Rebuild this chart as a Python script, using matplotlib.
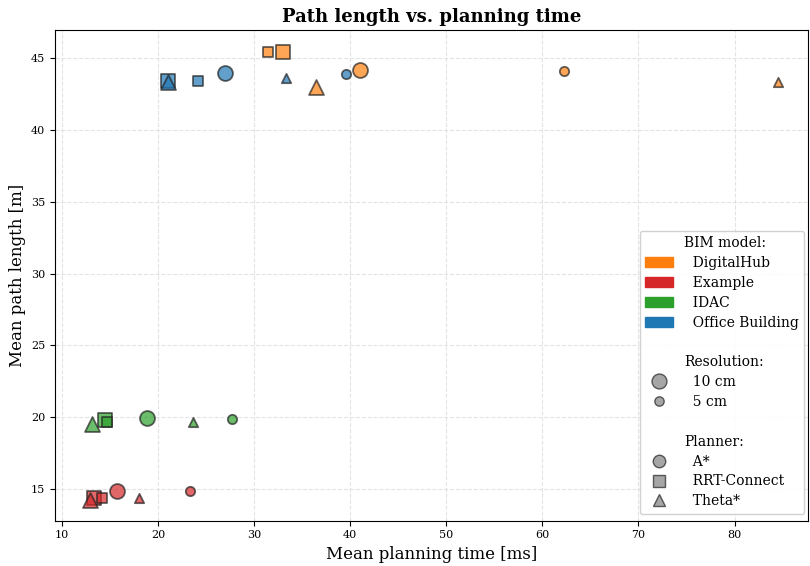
import numpy as np
import matplotlib.pyplot as plt
from matplotlib.patches import Patch
from matplotlib.lines import Line2D

plt.rcParams['font.family'] = 'DejaVu Serif'

models = ['DigitalHub', 'Example', 'IDAC', 'Office Building']
colors = {'DigitalHub': '#ff7f0e', 'Example': '#d62728', 'IDAC': '#2ca02c', 'Office Building': '#1f77b4'}
planners = ['A*', 'RRT-Connect', 'Theta*']
markers = {'A*': 'o', 'RRT-Connect': 's', 'Theta*': '^'}
resolutions = ['10 cm', '5 cm']
sizes = {'10 cm': 115, '5 cm': 45}

# (model, planner, resolution) -> time [ms], length [m]
run_model = ['DigitalHub'] * 6 + ['Example'] * 6 + ['IDAC'] * 6 + ['Office Building'] * 6
run_planner = ['A*', 'A*', 'RRT-Connect', 'RRT-Connect', 'Theta*', 'Theta*'] * 4
run_res = ['10 cm', '5 cm'] * 12
run_time = [41.0, 62.3, 33.0, 31.5, 36.4, 84.5,
            15.7, 23.3, 13.3, 14.2, 12.9, 18.0,
            18.9, 27.7, 14.5, 14.7, 13.1, 23.7,
            27.0, 39.6, 21.1, 24.2, 21.0, 33.3]
run_length = [44.15, 44.1, 45.4, 45.4, 43.0, 43.35,
              14.9, 14.85, 14.35, 14.35, 14.25, 14.35,
              19.95, 19.9, 19.8, 19.7, 19.5, 19.65,
              43.95, 43.9, 43.4, 43.4, 43.35, 43.6]

fig, ax = plt.subplots(figsize=(8.1, 5.66), dpi=100)
fig.subplots_adjust(left=0.068, right=0.997, top=0.947, bottom=0.08)

for m, p, r, t, l in zip(run_model, run_planner, run_res, run_time, run_length):
    ax.scatter(t, l, s=sizes[r], marker=markers[p], color=colors[m], alpha=0.7,
               edgecolors='#222222', linewidths=1.3, zorder=3)

ax.set_xlim(9.3, 87.6)
ax.set_ylim(12.8, 46.95)
ax.set_xlabel('Mean planning time [ms]', fontsize=12)
ax.set_ylabel('Mean path length [m]', fontsize=12)
ax.set_title('Path length vs. planning time', fontsize=13, fontweight='bold')
ax.tick_params(labelsize=8)
ax.grid(True, linestyle='--', color='#dddddd', alpha=0.8)

blank = Line2D([], [], linestyle='none', marker=None)
handles = [blank]
labels = ['BIM model:']
for m in models:
    handles.append(Patch(color=colors[m]))
    labels.append('  ' + m)
handles.append(blank); labels.append('')
handles.append(blank); labels.append('Resolution:')
for r in resolutions:
    handles.append(Line2D([], [], linestyle='none', marker='o', markersize=np.sqrt(sizes[r]),
                          markerfacecolor='gray', markeredgecolor='#222222', alpha=0.7))
    labels.append('  ' + r)
handles.append(blank); labels.append('')
handles.append(blank); labels.append('Planner:')
for p in planners:
    handles.append(Line2D([], [], linestyle='none', marker=markers[p], markersize=9,
                          markerfacecolor='gray', markeredgecolor='#222222', alpha=0.7))
    labels.append('  ' + p)

ax.legend(handles, labels, loc='lower right', bbox_to_anchor=(1.005, 0.0),
          fontsize=10, framealpha=0.9, labelspacing=0.42)

plt.savefig('out.png')
